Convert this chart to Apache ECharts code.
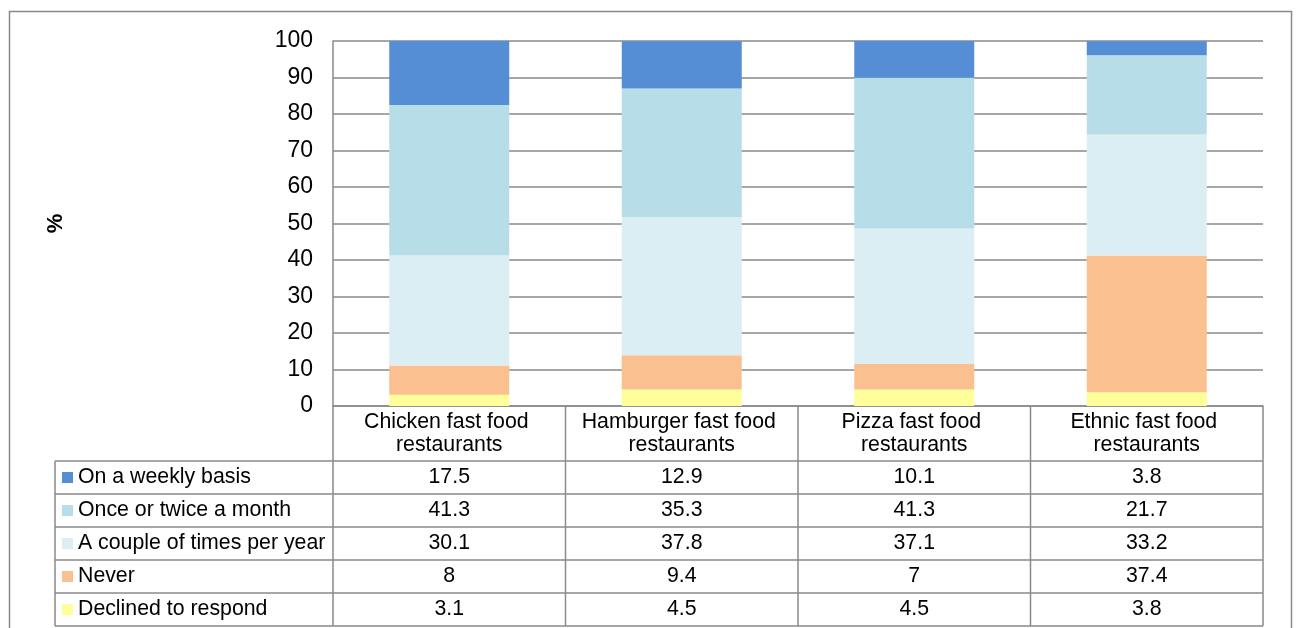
<!DOCTYPE html>
<html>
<head>
<meta charset="utf-8">
<script src="https://cdn.jsdelivr.net/npm/echarts@6/dist/echarts.min.js"></script>
<style>
  html, body { margin: 0; padding: 0; background: #ffffff; }
  #chart { width: 1298px; height: 628px; }
</style>
</head>
<body>
<div id="chart"></div>
<script>
// Categories and survey shares (%) per visit frequency
const categories = [
  'Chicken fast food restaurants',
  'Hamburger fast food restaurants',
  'Pizza fast food restaurants',
  'Ethnic fast food restaurants'
];
const weekly   = [17.5, 12.9, 10.1, 3.8];
const monthly  = [41.3, 35.3, 41.3, 21.7];
const yearly   = [30.1, 37.8, 37.1, 33.2];
const never    = [8, 9.4, 7, 37.4];
const declined = [3.1, 4.5, 4.5, 3.8];

const seriesNames = [
  'On a weekly basis',
  'Once or twice a month',
  'A couple of times per year',
  'Never',
  'Declined to respond'
];
const yMin = 0, yMax = 100, yStep = 10;

// Table rows (top to bottom) and stack order (bottom to top)
const tableRows = [weekly, monthly, yearly, never, declined];
const colors = ['#558ed5', '#b7dde8', '#dbeef4', '#fac090', '#ffff99'];

const FONT = '"Liberation Sans", Arial, sans-serif';
const LINE = '#8a8a8a';
const TABLE_FONT = 21.3;

const chart = echarts.init(document.getElementById('chart'), null, { renderer: 'canvas' });

const stackOrder = [4, 3, 2, 1, 0];
const series = stackOrder.map(k => ({
  name: seriesNames[k],
  type: 'bar',
  stack: 'total',
  barWidth: 120,
  data: tableRows[k],
  itemStyle: { color: colors[k] },
  emphasis: { disabled: true },
  animation: false
}));

chart.setOption({
  animation: false,
  backgroundColor: '#ffffff',
  textStyle: { fontFamily: FONT, color: '#000' },
  grid: { left: 333, right: 35, top: 41, bottom: 222, containLabel: false },
  xAxis: {
    type: 'category',
    data: categories,
    axisLine: { show: true, lineStyle: { color: LINE, width: 1.5 } },
    axisTick: { show: false },
    axisLabel: {
      interval: 0,
      margin: 5,
      fontSize: TABLE_FONT,
      lineHeight: 23,
      color: '#000',
      fontFamily: FONT,
      width: 224,
      overflow: 'break',
      align: 'center'
    }
  },
  yAxis: {
    type: 'value',
    min: yMin,
    max: yMax,
    interval: yStep,
    name: '%',
    nameLocation: 'middle',
    nameGap: 266,
    nameRotate: 90,
    nameTextStyle: { fontSize: 22, fontWeight: 'bold', color: '#000', fontFamily: FONT },
    axisLine: { show: true, lineStyle: { color: LINE, width: 1.5 } },
    axisTick: { show: false },
    axisLabel: { fontSize: 23, color: '#000', margin: 20, fontFamily: FONT },
    splitLine: { show: true, lineStyle: { color: LINE, width: 1.5 } }
  },
  series: series
});

// Data table drawn beneath the plot, aligned with the category bands
function buildTable() {
  const nCat = categories.length;
  const p0 = chart.convertToPixel({ gridIndex: 0 }, [0, yMin]);
  const p1 = chart.convertToPixel({ gridIndex: 0 }, [1, yMin]);
  const band = p1[0] - p0[0];
  const leftEdge = p0[0] - band / 2;
  const rightEdge = leftEdge + band * nCat;
  const axisY = p0[1];
  const headerBottom = axisY + 55;
  const rowH = 33;
  const labelLeft = 55;
  const els = [];
  const lineStyle = { stroke: LINE, lineWidth: 1.5 };

  // outer chart border
  els.push({ type: 'rect', shape: { x: 9.5, y: 11.5, width: 1282, height: 640 },
    style: { fill: 'none', stroke: LINE, lineWidth: 1.5 }, silent: true });

  // vertical lines
  for (let i = 0; i <= nCat; i++) {
    const x = leftEdge + band * i;
    els.push({ type: 'line', shape: { x1: x, y1: axisY, x2: x, y2: headerBottom + rowH * tableRows.length },
      style: lineStyle, silent: true });
  }
  els.push({ type: 'line', shape: { x1: labelLeft, y1: headerBottom, x2: labelLeft, y2: headerBottom + rowH * tableRows.length },
    style: lineStyle, silent: true });

  // horizontal lines
  for (let r = 0; r <= tableRows.length; r++) {
    const y = headerBottom + rowH * r;
    els.push({ type: 'line', shape: { x1: labelLeft, y1: y, x2: rightEdge, y2: y }, style: lineStyle, silent: true });
  }

  // row labels with colour keys, and values
  tableRows.forEach((row, r) => {
    const cy = headerBottom + rowH * r + rowH / 2;
    els.push({ type: 'rect', shape: { x: 62, y: cy - 5.5, width: 11, height: 11 },
      style: { fill: colors[r] }, silent: true });
    els.push({ type: 'text', x: 78, y: cy,
      style: { text: seriesNames[r], fontSize: TABLE_FONT, fontFamily: FONT, fill: '#000', verticalAlign: 'middle', align: 'left' },
      silent: true });
    row.forEach((v, c) => {
      const cx = chart.convertToPixel({ gridIndex: 0 }, [c, yMin])[0];
      els.push({ type: 'text', x: cx, y: cy,
        style: { text: String(v), fontSize: TABLE_FONT, fontFamily: FONT, fill: '#000', verticalAlign: 'middle', align: 'center' },
        silent: true });
    });
  });

  chart.setOption({ graphic: { elements: els } });
}
buildTable();
</script>
</body>
</html>
